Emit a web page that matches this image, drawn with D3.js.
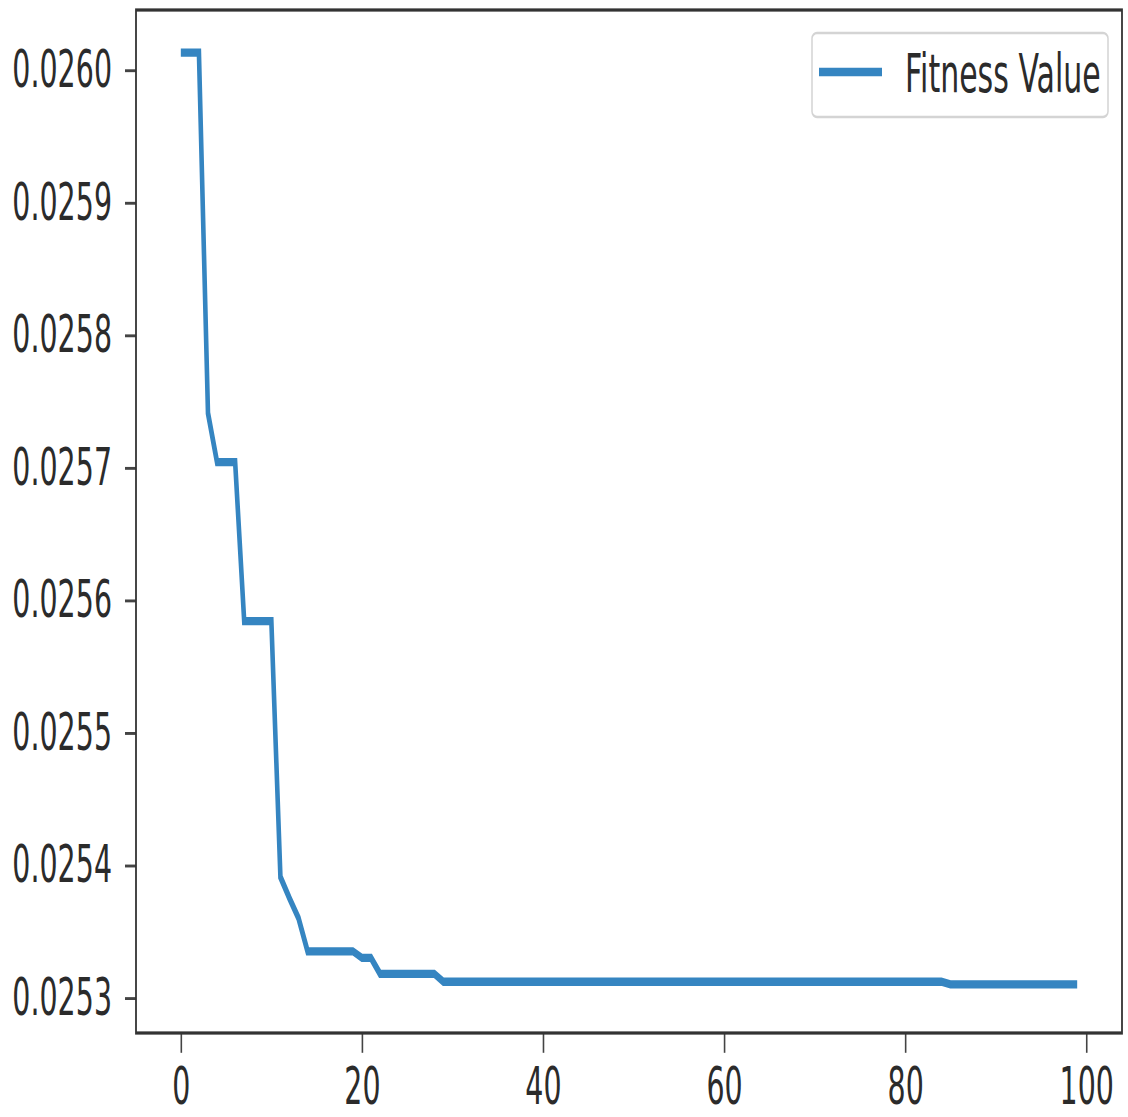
<!DOCTYPE html>
<html lang="en">
<head>
  <meta charset="UTF-8">
  <title>Fitness Value</title>
  <style>
    body { margin: 0; background: #fff; }
    svg { display: block; }
    text { font-family: 'DejaVu Sans', sans-serif; fill: #2b2b2b; }
  </style>
  <script src="https://d3js.org/d3.v7.min.js"></script>
</head>
<body>
<script>
  // fitness per iteration (0..99)
  const fitness = [
    0.026013, 0.026013, 0.026013, 0.025741, 0.025704, 0.025704, 0.025704, 0.025584, 0.025584, 0.025584,
    0.025584, 0.025391, 0.025375, 0.025360, 0.025335, 0.025335, 0.025335, 0.025335, 0.025335, 0.025335,
    0.025330, 0.025330, 0.025318, 0.025318, 0.025318, 0.025318, 0.025318, 0.025318, 0.025318, 0.025312,
    0.025312, 0.025312, 0.025312, 0.025312, 0.025312, 0.025312, 0.025312, 0.025312, 0.025312, 0.025312,
    0.025312, 0.025312, 0.025312, 0.025312, 0.025312, 0.025312, 0.025312, 0.025312, 0.025312, 0.025312,
    0.025312, 0.025312, 0.025312, 0.025312, 0.025312, 0.025312, 0.025312, 0.025312, 0.025312, 0.025312,
    0.025312, 0.025312, 0.025312, 0.025312, 0.025312, 0.025312, 0.025312, 0.025312, 0.025312, 0.025312,
    0.025312, 0.025312, 0.025312, 0.025312, 0.025312, 0.025312, 0.025312, 0.025312, 0.025312, 0.025312,
    0.025312, 0.025312, 0.025312, 0.025312, 0.025312, 0.025310, 0.025310, 0.025310, 0.025310, 0.025310,
    0.025310, 0.025310, 0.025310, 0.025310, 0.025310, 0.025310, 0.025310, 0.025310, 0.025310, 0.025310
  ];
  const iterations = fitness.map((d, i) => i);
  const xTicks = [0, 20, 40, 60, 80, 100];
  const yTicks = [0.0253, 0.0254, 0.0255, 0.0256, 0.0257, 0.0258, 0.0259, 0.0260];
  const seriesName = "Fitness Value";

  // the picture is a figure stretched vertically, so draw in a squashed viewBox
  const W = 1128, H = 1117, k = 1.8;
  const VH = H / k;

  const svg = d3.select("body").append("svg")
    .attr("width", W)
    .attr("height", H)
    .attr("viewBox", `0 0 ${W} ${VH}`)
    .attr("preserveAspectRatio", "none");

  const plotLeft = 136, plotRight = 1122, plotTop = 10 / k, plotBottom = 1033 / k;

  const xPad = (d3.max(iterations) - d3.min(iterations)) * 0.05;
  const x = d3.scaleLinear()
    .domain([d3.min(iterations) - xPad, d3.max(iterations) + xPad])
    .range([plotLeft, plotRight]);

  const [yMin, yMax] = d3.extent(fitness);
  const yPad = (yMax - yMin) * 0.05;
  const y = d3.scaleLinear()
    .domain([yMin - yPad, yMax + yPad])
    .range([1031 / k, 6 / k]);

  // line
  const line = d3.line()
    .x((d, i) => x(iterations[i]))
    .y(d => y(d));

  svg.append("path")
    .datum(fitness)
    .attr("fill", "none")
    .attr("stroke", "#3585c1")
    .attr("stroke-width", 4.6)
    .attr("d", line);

  // axes
  const xAxis = svg.append("g")
    .attr("transform", `translate(0,${plotBottom})`)
    .call(d3.axisBottom(x).tickValues(xTicks).tickSize(11).tickPadding(8).tickFormat(d3.format("d")));

  const yAxis = svg.append("g")
    .attr("transform", `translate(${plotLeft},0)`)
    .call(d3.axisLeft(y).tickValues(yTicks).tickSize(11).tickPadding(13).tickFormat(d3.format(".4f")));

  [xAxis, yAxis].forEach(g => {
    g.select(".domain").remove();
    g.selectAll(".tick line").attr("stroke", "#444").attr("stroke-width", 1.6);
    g.selectAll(".tick text").attr("font-size", 28.5).attr("fill", "#2b2b2b");
  });

  // spines
  svg.append("rect")
    .attr("x", plotLeft)
    .attr("y", plotTop)
    .attr("width", plotRight - plotLeft)
    .attr("height", plotBottom - plotTop)
    .attr("fill", "none")
    .attr("stroke", "#333")
    .attr("stroke-width", 1.8);

  // legend
  const legend = svg.append("g");
  legend.append("rect")
    .attr("x", 812)
    .attr("y", 33 / k)
    .attr("width", 296)
    .attr("height", 84 / k)
    .attr("rx", 5)
    .attr("ry", 3)
    .attr("fill", "#fff")
    .attr("stroke", "#d4d4d4")
    .attr("stroke-width", 1.5);

  legend.append("line")
    .attr("x1", 819)
    .attr("x2", 882)
    .attr("y1", 72 / k)
    .attr("y2", 72 / k)
    .attr("stroke", "#3585c1")
    .attr("stroke-width", 4.6);

  legend.append("text")
    .attr("x", 905)
    .attr("y", 92 / k)
    .attr("font-size", 30)
    .text(seriesName);
</script>
</body>
</html>
